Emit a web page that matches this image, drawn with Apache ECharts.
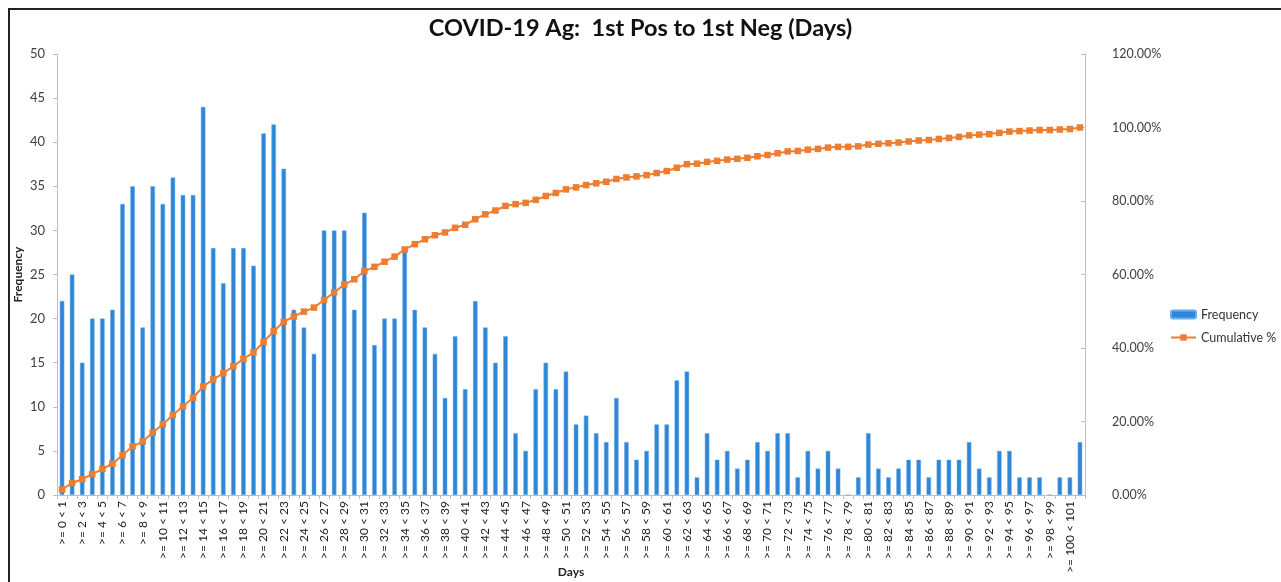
<!DOCTYPE html>
<html>
<head>
<meta charset="utf-8">
<script src="https://cdn.jsdelivr.net/npm/echarts@6/dist/echarts.min.js"></script>
<style>
html,body{margin:0;padding:0;background:#fff;}
#chart{width:1281px;height:582px;}
</style>
</head>
<body>
<div id="chart"></div>
<script>
// Categories: day bins (last bin unlabeled on axis)
const categories = [];
for (let i = 0; i <= 101; i++) { categories.push('>= ' + i + ' < ' + (i + 1)); }

// Frequency per bin
const frequency = [
  22,25,15,20,20,21,33,35,19,35,
  33,36,34,34,44,28,24,28,28,26,
  41,42,37,21,19,16,30,30,30,21,
  32,17,20,20,28,21,19,16,11,18,
  12,22,19,15,18,7,5,12,15,12,
  14,8,9,7,6,11,6,4,5,8,
  8,13,14,2,7,4,5,3,4,6,
  5,7,7,2,5,3,5,3,0,2,
  7,3,2,3,4,4,2,4,4,4,
  6,3,2,5,5,2,2,2,0,2,
  2,6
];

// Cumulative % per bin
const cumulative = [
  1.52,3.26,4.30,5.68,7.07,8.52,10.81,13.24,14.55,16.98,
  19.27,21.76,24.12,26.47,29.52,31.46,33.13,35.07,37.01,38.81,
  41.65,44.56,47.12,48.58,49.90,51.00,53.08,55.16,57.24,58.70,
  60.91,62.09,63.48,64.86,66.81,68.26,69.58,70.69,71.45,72.70,
  73.53,75.05,76.37,77.41,78.66,79.14,79.49,80.32,81.36,82.19,
  83.16,83.71,84.34,84.82,85.24,86.00,86.42,86.69,87.04,87.60,
  88.15,89.05,90.02,90.16,90.64,90.92,91.27,91.48,91.75,92.17,
  92.52,93.00,93.49,93.62,93.97,94.18,94.53,94.73,94.73,94.87,
  95.36,95.56,95.70,95.91,96.19,96.47,96.60,96.88,97.16,97.44,
  97.85,98.06,98.20,98.54,98.89,99.03,99.17,99.31,99.31,99.45,
  99.58,100.00
];

const leftTicks = { min: 0, max: 50, interval: 5 };
const rightTicks = { min: 0, max: 120, interval: 20 };

const FONT = 'Lato, "Open Sans", sans-serif';
const chart = echarts.init(document.getElementById('chart'));
chart.setOption({
  animation: false,
  backgroundColor: '#ffffff',
  title: {
    text: 'COVID-19 Ag:  1st Pos to 1st Neg (Days)',
    left: 'center',
    top: 11,
    textStyle: { fontFamily: FONT, fontSize: 23.5, fontWeight: 'bold', color: '#111' }
  },
  graphic: [{
    type: 'rect',
    shape: { x: 9, y: 9, width: 1400, height: 800 },
    style: { fill: 'none', stroke: '#222', lineWidth: 2 },
    silent: true, z: 100
  }],
  legend: {
    orient: 'vertical',
    left: 1165,
    top: 303,
    itemGap: 10,
    itemWidth: 25,
    itemHeight: 8,
    textStyle: { fontFamily: FONT, fontSize: 12.5, color: '#333' },
    data: ['Frequency', 'Cumulative %']
  },
  grid: { left: 57, right: 196, top: 54, bottom: 87, containLabel: false, outerBoundsMode: 'none' },
  xAxis: {
    type: 'category',
    data: categories,
    name: 'Days',
    nameLocation: 'middle',
    nameGap: 71,
    nameMoveOverlap: false,
    nameTextStyle: { fontFamily: FONT, fontSize: 12, fontWeight: 'bold', color: '#222' },
    axisLine: { lineStyle: { color: '#bfbfbf' } },
    axisTick: { show: true, interval: 0, length: 4, lineStyle: { color: '#bfbfbf' } },
    axisLabel: {
      interval: 1, rotate: 90, margin: 6,
      fontFamily: FONT, fontSize: 12, color: '#222'
    }
  },
  yAxis: [{
    type: 'value',
    min: leftTicks.min, max: leftTicks.max, interval: leftTicks.interval,
    name: 'Frequency',
    nameLocation: 'middle',
    nameRotate: 90,
    nameGap: 33,
    nameMoveOverlap: false,
    nameTextStyle: { fontFamily: FONT, fontSize: 12, fontWeight: 'bold', color: '#222' },
    axisLine: { show: true, lineStyle: { color: '#bfbfbf' } },
    axisTick: { show: true, length: 4, lineStyle: { color: '#bfbfbf' } },
    axisLabel: { margin: 12, fontFamily: FONT, fontSize: 13, color: '#404040' },
    splitLine: { show: false }
  }, {
    type: 'value',
    position: 'right',
    min: rightTicks.min, max: rightTicks.max, interval: rightTicks.interval,
    axisLine: { show: true, lineStyle: { color: '#bfbfbf' } },
    axisTick: { show: true, inside: true, length: 4, lineStyle: { color: '#bfbfbf' } },
    axisLabel: {
      margin: 27, fontFamily: FONT, fontSize: 12.5, color: '#404040',
      formatter: v => v.toFixed(2) + '%'
    },
    splitLine: { show: false }
  }],
  series: [{
    name: 'Frequency',
    type: 'bar',
    data: frequency,
    barWidth: 4.5,
    itemStyle: { color: '#2f86d6', borderColor: '#6aaee8', borderWidth: 0.5 }
  }, {
    name: 'Cumulative %',
    type: 'line',
    yAxisIndex: 1,
    data: cumulative,
    symbol: 'rect',
    symbolSize: 6.5,
    lineStyle: { color: '#ed7d31', width: 2 },
    itemStyle: { color: '#ed7d31' },
    z: 3
  }]
});
</script>
</body>
</html>
